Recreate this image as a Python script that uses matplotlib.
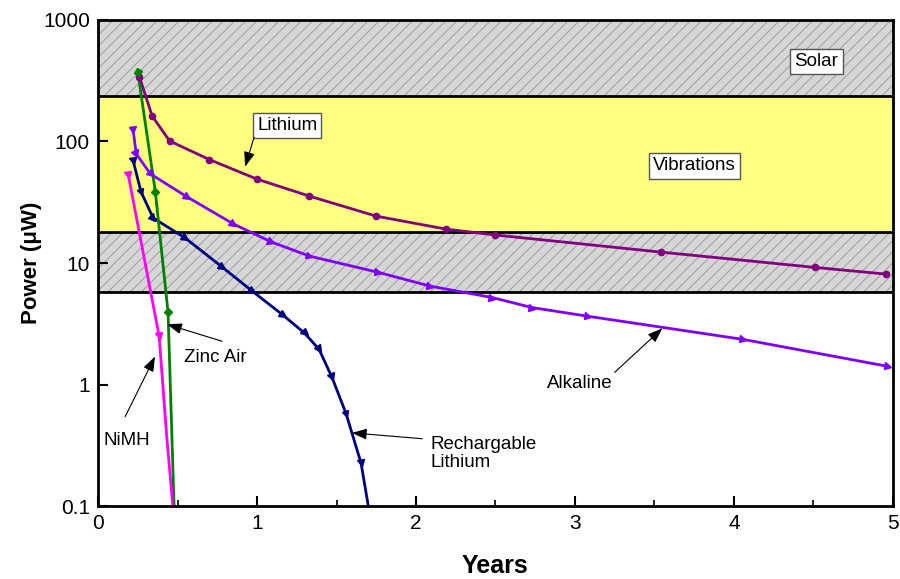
import numpy as np
import matplotlib
matplotlib.use('Agg')
import matplotlib.pyplot as plt
from matplotlib.markers import MarkerStyle
from matplotlib.transforms import Affine2D
from matplotlib.ticker import FixedLocator, NullLocator

plt.rcParams['font.family'] = ['Liberation Sans', 'DejaVu Sans']
plt.rcParams['hatch.linewidth'] = 0.6
plt.rcParams['hatch.color'] = '#969696'

## Battery discharge curves (years, microwatts)
lithium_x = [0.26, 0.34, 0.45, 0.70, 1.00, 1.33, 1.75, 2.19, 2.50, 3.54, 4.51, 4.96]
lithium_y = [340, 162, 101, 71, 49, 35.5, 24.3, 19.0, 17.0, 12.3, 9.2, 8.1]

alkaline_x = [0.22, 0.24, 0.33, 0.56, 0.85, 1.09, 1.33, 1.76, 2.09, 2.48, 2.73, 3.08, 4.06, 4.97]
alkaline_y = [125, 79, 54, 35, 21, 14.9, 11.4, 8.4, 6.45, 5.2, 4.3, 3.65, 2.35, 1.41]

recharge_x = [0.22, 0.27, 0.346, 0.547, 0.78, 0.97, 1.164, 1.30, 1.39, 1.47, 1.56, 1.654, 1.70]
recharge_y = [69.7, 38.6, 23.5, 16.1, 9.27, 5.87, 3.72, 2.64, 1.95, 1.16, 0.576, 0.227, 0.1]

zinc_x = [0.25, 0.36, 0.44, 0.478]
zinc_y = [372, 38.6, 3.94, 0.1]

nimh_x = [0.19, 0.384, 0.43, 0.47]
nimh_y = [53, 2.5, 0.4, 0.1]

## Harvesting ranges (microwatts)
solar_range = [235, 1000]
vibration_range = [18, 235]
hatched_low = 5.8

y_ticks = [0.1, 1, 10, 100, 1000]
y_tick_labels = ['0.1', '1', '10', '100', '1000']
x_ticks = [0, 1, 2, 3, 4, 5]

fig = plt.figure(figsize=(9, 5.79), dpi=100)
ax = fig.add_axes([0.109, 0.126, 0.883, 0.8395])
ax.set_yscale('log')
ax.set_xlim(0, 5)
ax.set_ylim(0.1, 1000)

# background bands
ax.axhspan(hatched_low, solar_range[1], facecolor='#d6d6d6', edgecolor='#969696',
           hatch='///', linewidth=0, zorder=0)
ax.axhspan(vibration_range[0], vibration_range[1], facecolor='#ffff80',
           linewidth=0, zorder=0.5)
for yb in [hatched_low, vibration_range[0], vibration_range[1]]:
    ax.axhline(yb, color='black', lw=2, zorder=1)


def draw_series(x, y, color, marker, n_marked, ms):
    ax.plot(x, y, color=color, lw=2, zorder=3)
    pts = ax.transData.transform(np.column_stack([x, y]))
    for i in range(n_marked):
        j0 = max(i - 1, 0)
        j1 = min(i + 1, len(x) - 1)
        dx, dy = pts[j1] - pts[j0]
        ang = np.degrees(np.arctan2(dy, dx))
        m = MarkerStyle(marker, transform=Affine2D().rotate_deg(ang))
        ax.plot(x[i], y[i], marker=m, color=color, ms=ms, linestyle='none', zorder=4)


draw_series(lithium_x, lithium_y, '#800080', 'o', len(lithium_x), 4.5)
draw_series(alkaline_x, alkaline_y, '#8000ff', '>', len(alkaline_x), 5)
draw_series(recharge_x, recharge_y, '#000080', '>', len(recharge_x) - 1, 5)
draw_series(zinc_x, zinc_y, '#008000', 'D', len(zinc_x) - 1, 4)
draw_series(nimh_x, nimh_y, '#ff00ff', '>', 2, 5)

# labels
fs = 13.5
box = dict(boxstyle='square,pad=0.22', fc='white', ec='#555555', lw=1)
ax.text(4.52, 458, 'Solar', fontsize=fs, ha='center', va='center', bbox=box, zorder=5)
ax.text(3.75, 63, 'Vibrations', fontsize=fs, ha='center', va='center', bbox=box, zorder=5)
ax.text(1.19, 135, 'Lithium', fontsize=fs, ha='center', va='center', bbox=box, zorder=5)
ax.text(0.736, 1.67, 'Zinc Air', fontsize=fs, ha='center', va='center', zorder=5)
ax.text(0.18, 0.344, 'NiMH', fontsize=fs, ha='center', va='center', zorder=5)
ax.text(2.09, 0.272, 'Rechargable\nLithium', fontsize=fs, ha='left', va='center',
        linespacing=1.05, zorder=5)
ax.text(3.03, 1.02, 'Alkaline', fontsize=fs, ha='center', va='center', zorder=5)

arrow = dict(arrowstyle='-|>,head_length=0.6,head_width=0.22', color='black', lw=0.8,
             mutation_scale=15, shrinkA=0, shrinkB=0)
arrows = [((0.925, 62), (0.981, 108)),
          ((0.434, 3.13), (0.78, 2.27)),
          ((0.358, 1.70), (0.17, 0.544)),
          ((1.597, 0.40), (2.04, 0.358)),
          ((3.55, 2.9), (3.25, 1.26))]
for head, tail in arrows:
    ax.annotate('', xy=head, xytext=tail, arrowprops=arrow, zorder=6)

# axes styling
for sp in ax.spines.values():
    sp.set_linewidth(2)
    sp.set_zorder(7)
ax.yaxis.set_major_locator(FixedLocator(y_ticks))
ax.yaxis.set_minor_locator(NullLocator())
ax.set_yticklabels(y_tick_labels)
ax.set_xticks(x_ticks)
ax.set_xticks([0.5, 1.5, 2.5, 3.5, 4.5], minor=True)
ax.tick_params(axis='both', which='major', direction='in', length=7, width=1.5,
               labelsize=15, pad=6)
ax.tick_params(axis='x', which='minor', direction='in', length=4, width=1.2)
ax.set_xlabel('Years', fontsize=18, fontweight='bold', labelpad=15)
ax.set_ylabel('Power (\u03bcW)', fontsize=16, fontweight='bold', labelpad=1)

fig.savefig('out.png', dpi=100)
